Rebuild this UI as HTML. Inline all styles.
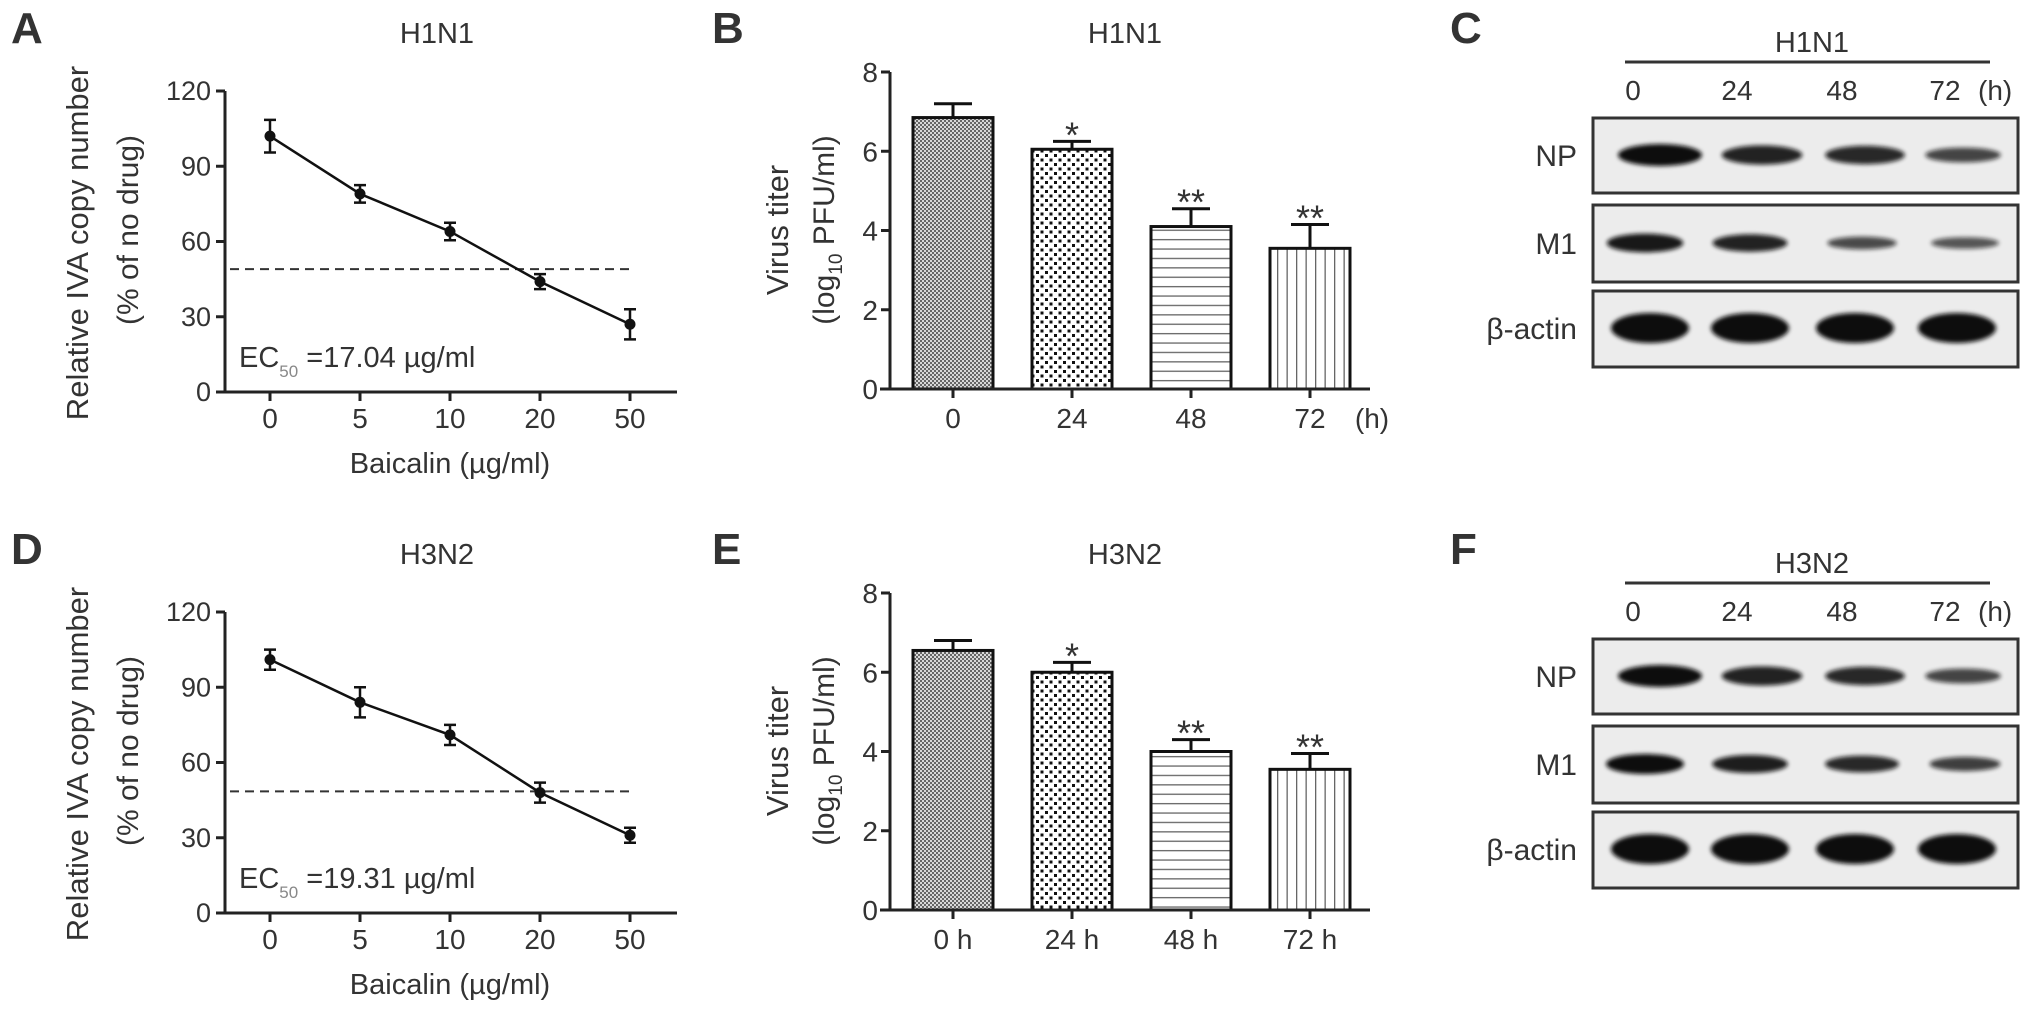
<!DOCTYPE html>
<html><head><meta charset="utf-8"><style>
html,body{margin:0;padding:0;background:#fff;}
svg{display:block;font-family:"Liberation Sans",sans-serif;}
text{fill:#333;}
</style></head><body>
<svg id="fig" width="2031" height="1012" viewBox="0 0 2031 1012">
<defs>
<pattern id="pat0" width="4" height="4" patternUnits="userSpaceOnUse"><rect width="4" height="4" fill="#d8d8d8"/><rect width="2" height="2" fill="#666"/><rect x="2" y="2" width="2" height="2" fill="#666"/></pattern>
<pattern id="pat1" width="9" height="9" patternUnits="userSpaceOnUse"><rect width="9" height="9" fill="#fff"/><rect x="1" y="1" width="3" height="3" fill="#111"/><rect x="5.5" y="5.5" width="3" height="3" fill="#111"/></pattern>
<pattern id="pat2" width="10" height="9.4" patternUnits="userSpaceOnUse"><rect width="10" height="9.4" fill="#fff"/><rect y="4" width="10" height="1.3" fill="#666"/></pattern>
<pattern id="pat3" width="9.5" height="10" patternUnits="userSpaceOnUse"><rect width="9.5" height="10" fill="#fff"/><rect x="4" width="1.3" height="10" fill="#666"/></pattern>
<filter id="blur" x="-30%" y="-100%" width="160%" height="300%"><feGaussianBlur stdDeviation="2.2"/></filter>
</defs>
<g id="root"></g>
</svg>
<script>
// ---- Line chart data (A: H1N1, D: H3N2) ----
const doseLabels = ["0","5","10","20","50"];
const h1n1Copy = [102, 79, 64, 44, 27];
const h1n1CopyErr = [6.5, 3.5, 3.5, 3, 6];
const h3n2Copy = [101, 84, 71, 48, 31];
const h3n2CopyErr = [4, 6, 4, 4, 3];
const ec50Line = [49, 48.5];
const copyTicks = [0, 30, 60, 90, 120];
// ---- Bar chart data (B: H1N1, E: H3N2) ----
const timeLabelsB = ["0","24","48","72"];
const timeLabelsE = ["0 h","24 h","48 h","72 h"];
const h1n1Titer = [6.85, 6.05, 4.1, 3.55];
const h1n1TiterErr = [0.35, 0.2, 0.45, 0.6];
const h3n2Titer = [6.55, 6.0, 4.0, 3.55];
const h3n2TiterErr = [0.25, 0.25, 0.3, 0.4];
const sigMarks = ["", "*", "**", "**"];
const titerTicks = [0, 2, 4, 6, 8];
// ---- Blot band intensities ----
const blotLanes = ["0","24","48","72"];
const h1n1NP = [1.0, 0.8, 0.75, 0.5];
const h1n1M1 = [0.9, 0.8, 0.45, 0.35];
const h3n2NP = [1.0, 0.8, 0.75, 0.5];
const h3n2M1 = [1.0, 0.85, 0.75, 0.55];
const actinLevel = [1, 1, 1, 1];

const NS = "http://www.w3.org/2000/svg";
const root = document.getElementById("root");
function mk(tag, attrs, parent, txt) {
  const e = document.createElementNS(NS, tag);
  for (const k in attrs) e.setAttribute(k, attrs[k]);
  if (txt !== undefined) e.textContent = txt;
  (parent || root).appendChild(e);
  return e;
}

function lineChart(dy, title, vals, errs, ec, ecText, letter) {
  const g = mk("g", {});
  
  
  const y0 = 392 + dy, x0 = 225;
  const yS = v => y0 - v * (301 / 120);
  const xS = i => 270 + i * 90;
  const L = mk("text", {x: 11, y: 43 + dy, "font-size": 44, "font-weight": "bold"}, g, letter);
  
  
  const t = mk("text", {x: 437, y: 43 + dy, "font-size": 29, "text-anchor": "middle"}, g, title);
  
  
  const ya = mk("line", {x1: x0, y1: yS(120), x2: x0, y2: y0 + 1.5, stroke: "#222", "stroke-width": 3}, g);
  
  
  const xa = mk("line", {x1: 217, y1: y0, x2: 677, y2: y0, stroke: "#222", "stroke-width": 3}, g);
  
  
  copyTicks.forEach(v => {
    mk("line", {x1: x0 - 9, y1: yS(v), x2: x0, y2: yS(v), stroke: "#222", "stroke-width": 3}, g);
    const tl = mk("text", {x: 211, y: yS(v) + 9, "font-size": 27, "text-anchor": "end"}, g, v);
    
    
  });
  doseLabels.forEach((d, i) => {
    mk("line", {x1: xS(i), y1: y0, x2: xS(i), y2: y0 + 9, stroke: "#222", "stroke-width": 3}, g);
    const tl = mk("text", {x: xS(i), y: 428 + dy, "font-size": 28, "text-anchor": "middle"}, g, d);
    
    
  });
  const xt = mk("text", {x: 450, y: 473 + dy, "font-size": 29, "text-anchor": "middle"}, g, "Baicalin (µg/ml)");
  
  
  const yt1 = mk("text", {x: 0, y: 0, "font-size": 31, "text-anchor": "middle", transform: `translate(88 ${243 + dy}) rotate(-90)`}, g, "Relative IVA copy number");
  
  
  const yt2 = mk("text", {x: 0, y: 0, "font-size": 30, "text-anchor": "middle", transform: `translate(138 ${230 + dy}) rotate(-90)`}, g, "(% of no drug)");
  
  
  const dl = mk("line", {x1: 230, y1: yS(ec), x2: 632, y2: yS(ec), stroke: "#333", "stroke-width": 2, "stroke-dasharray": "9 6"}, g);
  
  
  const pts = vals.map((v, i) => xS(i) + "," + yS(v)).join(" ");
  const pl = mk("polyline", {points: pts, fill: "none", stroke: "#111", "stroke-width": 2.5}, g);
  
  
  vals.forEach((v, i) => {
    const x = xS(i), e = errs[i];
    const eb = mk("path", {d: `M${x},${yS(v + e)}V${yS(v - e)}M${x - 6},${yS(v + e)}H${x + 6}M${x - 6},${yS(v - e)}H${x + 6}`, stroke: "#111", "stroke-width": 2.5, fill: "none"}, g);
    
    
    const c = mk("circle", {cx: x, cy: yS(v), r: 5.5, fill: "#111"}, g);
    
    
  });
  const et = mk("text", {x: 239, y: 367 + dy, "font-size": 29, fill: "#444"}, g);
  
  
  mk("tspan", {}, et, "EC");
  mk("tspan", {"font-size": 17, dy: 10, fill: "#888"}, et, "50");
  mk("tspan", {dy: -10}, et, " =" + ecText);
}

function barChart(dy, title, vals, errs, labels, showH, letter) {
  const g = mk("g", {});
  
  
  const y0 = 389 + dy, x0 = 890;
  const yS = v => y0 - v * (317 / 8);
  const xS = i => 953 + i * 119;
  const L = mk("text", {x: 712, y: 43 + dy, "font-size": 44, "font-weight": "bold"}, g, letter);
  
  
  const t = mk("text", {x: 1125, y: 43 + dy, "font-size": 29, "text-anchor": "middle"}, g, title);
  
  
  vals.forEach((v, i) => {
    const x = xS(i), e = errs[i];
    const eb = mk("path", {d: `M${x},${yS(v)}V${yS(v + e)}M${x - 19},${yS(v + e)}H${x + 19}`, stroke: "#111", "stroke-width": 3, fill: "none"}, g);
    
    
    const r = mk("rect", {x: x - 40, y: yS(v), width: 80, height: y0 - yS(v), fill: `url(#pat${i})`, stroke: "#111", "stroke-width": 3}, g);
    
    
    if (sigMarks[i]) {
      const s = mk("text", {x: x, y: yS(v + e) + 6, "font-size": 36, "text-anchor": "middle", fill: "#555"}, g, sigMarks[i]);
      
      
    }
    mk("line", {x1: x, y1: y0, x2: x, y2: y0 + 9, stroke: "#222", "stroke-width": 3}, g);
    const tl = mk("text", {x: x, y: 428 + dy, "font-size": 28, "text-anchor": "middle"}, g, labels[i]);
    
    
  });
  const ya = mk("line", {x1: x0, y1: yS(8), x2: x0, y2: y0 + 1.5, stroke: "#222", "stroke-width": 3}, g);
  
  
  const xa = mk("line", {x1: 880, y1: y0, x2: 1370, y2: y0, stroke: "#222", "stroke-width": 3}, g);
  
  
  titerTicks.forEach(v => {
    mk("line", {x1: x0 - 9, y1: yS(v), x2: x0, y2: yS(v), stroke: "#222", "stroke-width": 3}, g);
    const tl = mk("text", {x: 878, y: yS(v) + 10, "font-size": 28, "text-anchor": "end"}, g, v);
    
    
  });
  if (showH) {
    const h = mk("text", {x: 1372, y: 428 + dy, "font-size": 28, "text-anchor": "middle"}, g, "(h)");
    
    
  }
  const yt1 = mk("text", {x: 0, y: 0, "font-size": 31, "text-anchor": "middle", transform: `translate(788 ${230 + dy}) rotate(-90)`}, g, "Virus titer");
  
  
  const yt2 = mk("text", {x: 0, y: 0, "font-size": 30, "text-anchor": "middle", transform: `translate(834 ${230 + dy}) rotate(-90)`}, g);
  
  
  mk("tspan", {}, yt2, "(log");
  mk("tspan", {"font-size": 19, dy: 8}, yt2, "10");
  mk("tspan", {dy: -8}, yt2, " PFU/ml)");
}

function blot(dy, title, np, m1, letter) {
  const g = mk("g", {});
  
  
  const L = mk("text", {x: 1450, y: 43 + dy, "font-size": 44, "font-weight": "bold"}, g, letter);
  
  
  const t = mk("text", {x: 1812, y: 52 + dy, "font-size": 29, "text-anchor": "middle"}, g, title);
  
  
  mk("line", {x1: 1625, y1: 62 + dy, x2: 1990, y2: 62 + dy, stroke: "#333", "stroke-width": 3}, g);
  const laneX = [1633, 1737, 1842, 1945];
  blotLanes.forEach((l, i) => {
    const tl = mk("text", {x: laneX[i], y: 100 + dy, "font-size": 28, "text-anchor": "middle"}, g, l);
    
    
  });
  mk("text", {x: 1978, y: 100 + dy, "font-size": 28}, g, "(h)");
  const rows = [
    {name: "NP", y1: 118, y2: 193, cy: 155, vals: np, cx: [1660, 1762, 1865, 1963], h: 22, w: 84},
    {name: "M1", y1: 205, y2: 282, cy: 243, vals: m1, cx: [1645, 1750, 1862, 1965], h: 20, w: 78},
    {name: "β-actin", y1: 291, y2: 367, cy: 328, vals: actinLevel, cx: [1650, 1750, 1855, 1957], h: 30, w: 78}
  ];
  rows.forEach(r => {
    const box = mk("rect", {x: 1593, y: r.y1 + dy, width: 425, height: r.y2 - r.y1, fill: "#ececec", stroke: "#333", "stroke-width": 3}, g);
    
    
    const lb = mk("text", {x: 1577, y: r.cy + 11 + dy, "font-size": 30, "text-anchor": "end"}, g, r.name);
    
    
    r.vals.forEach((v, i) => {
      const b = mk("ellipse", {cx: r.cx[i], cy: r.cy + dy, rx: r.w / 2 * (0.8 + 0.2 * v), ry: r.h / 2 * (0.35 + 0.65 * v), fill: "#111", opacity: 0.5 + 0.5 * v, filter: "url(#blur)"}, g);
      
      
    });
  });
}

lineChart(0, "H1N1", h1n1Copy, h1n1CopyErr, ec50Line[0], "17.04 µg/ml", "A");
lineChart(521, "H3N2", h3n2Copy, h3n2CopyErr, ec50Line[1], "19.31 µg/ml", "D");
barChart(0, "H1N1", h1n1Titer, h1n1TiterErr, timeLabelsB, true, "B");
barChart(521, "H3N2", h3n2Titer, h3n2TiterErr, timeLabelsE, false, "E");
blot(0, "H1N1", h1n1NP, h1n1M1, "C");
blot(521, "H3N2", h3n2NP, h3n2M1, "F");
</script>
</body></html>
